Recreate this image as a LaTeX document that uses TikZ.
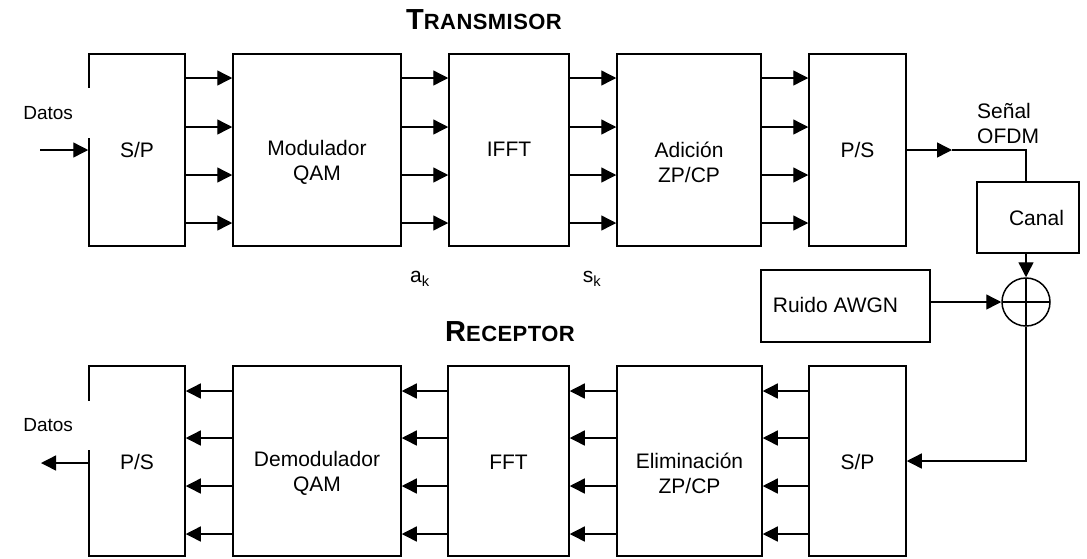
\documentclass[tikz,border=0pt]{standalone}
\usepackage{fontspec}
\setmainfont{Liberation Sans}
\usetikzlibrary{arrows.meta}
\begin{document}
\begin{tikzpicture}[x=1pt,y=-1pt,
  box/.style={draw, line width=1.5pt, inner sep=0pt},
  txt/.style={font=\fontsize{21}{25}\selectfont, align=center, inner sep=0pt},
  arr/.style={line width=1.4pt, -{Triangle[length=15pt,width=15pt]}},
  wire/.style={line width=1.4pt},
  title/.style={font=\bfseries, inner sep=0pt}]
\useasboundingbox (0,0) rectangle (1087,558);
% transmitter boxes
\node[box, minimum width=96, minimum height=192] (sp1) at (137,150) {};
\node[box, minimum width=168, minimum height=192] (mod) at (317,150) {};
\node[box, minimum width=120, minimum height=192] (ifft) at (509,150) {};
\node[box, minimum width=144, minimum height=192] (adi) at (689,150) {};
\node[box, minimum width=97, minimum height=192] (ps1) at (857.5,150) {};
% receiver boxes
\node[box, minimum width=96, minimum height=190] (ps2) at (137,461) {};
\node[box, minimum width=168, minimum height=190] (dem) at (317,461) {};
\node[box, minimum width=121, minimum height=190] (fft) at (508.5,461) {};
\node[box, minimum width=145, minimum height=190] (eli) at (689.5,461) {};
\node[box, minimum width=97, minimum height=190] (sp2) at (857.5,461) {};
% channel
\node[box, minimum width=102, minimum height=71] (canal) at (1028,217.5) {};
\node[box, minimum width=169, minimum height=72] (ruido) at (845.5,306) {};
\node[draw, line width=1.5pt, circle, minimum size=48, inner sep=0pt,
  path picture={\draw[line width=1.4pt] (path picture bounding box.north) -- (path picture bounding box.south)
  (path picture bounding box.west) -- (path picture bounding box.east);}] (sum) at (1026,302) {};
% texts
\node[txt] (tsp1) at (137,150) {S/P};
\node[txt] (tmod) at (317,162.5) {Modulador\\QAM};
\node[txt] (tifft) at (509,149) {IFFT};
\node[txt] (tadi) at (689,162.5) {Adición\\ZP/CP};
\node[txt] (tps1) at (857.5,150) {P/S};
\node[txt] (tps2) at (137,462) {P/S};
\node[txt] (tdem) at (317,473.5) {Demodulador\\QAM};
\node[txt] (tfft) at (508.5,462) {FFT};
\node[txt] (teli) at (689.5,473.5) {Eliminación\\ZP/CP};
\node[txt] (tsp2) at (857.5,462) {S/P};
\node[txt] (tcanal) at (1036.5,218) {Canal};
\node[txt] (truido) at (835.5,305) {Ruido AWGN};
\node[txt, align=left, anchor=west] (senal) at (977,123.5) {Señal\\OFDM};
\node[txt] (ak) at (420,279) {a\textsubscript{k}};
\node[txt] (sk) at (592,279) {s\textsubscript{k}};
\node[title] (ttx) at (484,20) {\fontsize{29}{29}\selectfont T\fontsize{22}{22}\selectfont\addfontfeature{LetterSpace=2}RANSMISOR};
\node[title] (trx) at (510,332) {\fontsize{29}{29}\selectfont R\fontsize{22}{22}\selectfont\addfontfeature{LetterSpace=2}ECEPTOR};
% transmitter arrows
\foreach \a/\b in {sp1/mod, mod/ifft, ifft/adi, adi/ps1}
  \foreach \y in {78,127,175,223}
    \draw[arr] (\a.east |- 0,\y) -- (\b.west |- 0,\y);
% receiver arrows
\foreach \a/\b in {ps2/dem, dem/fft, fft/eli, eli/sp2}
  \foreach \y in {391,438,486,534}
    \draw[arr] (\b.west |- 0,\y) -- (\a.east |- 0,\y);
% input / output
\coordinate (din) at (40,150);
\draw[arr] (din) -- (sp1.west);
\coordinate (dout) at (41,463);
\draw[arr] (ps2.west |- dout) -- (dout);
\node[txt, font=\fontsize{19}{22}\selectfont, fill=white, anchor=east, minimum height=50, text width=67, align=left, inner sep=0pt] (datos1) at (90.5,113) {Datos};
\node[txt, font=\fontsize{19}{22}\selectfont, fill=white, anchor=east, minimum height=49, text width=67, align=left, inner sep=0pt] (datos2) at (90.5,425.5) {Datos};
% channel path
\coordinate (tip) at (952,150);
\draw[arr] (ps1.east) -- (tip);
\draw[wire] (tip) -- (tip -| sum) -- (sum |- canal.north);
\draw[arr] (sum |- canal.south) -- (sum.north);
\draw[arr] (ruido.east |- sum) -- (sum.west);
\draw[arr] (sum.south) -- (sum |- sp2.east) -- (sp2.east);
\end{tikzpicture}
\end{document}
